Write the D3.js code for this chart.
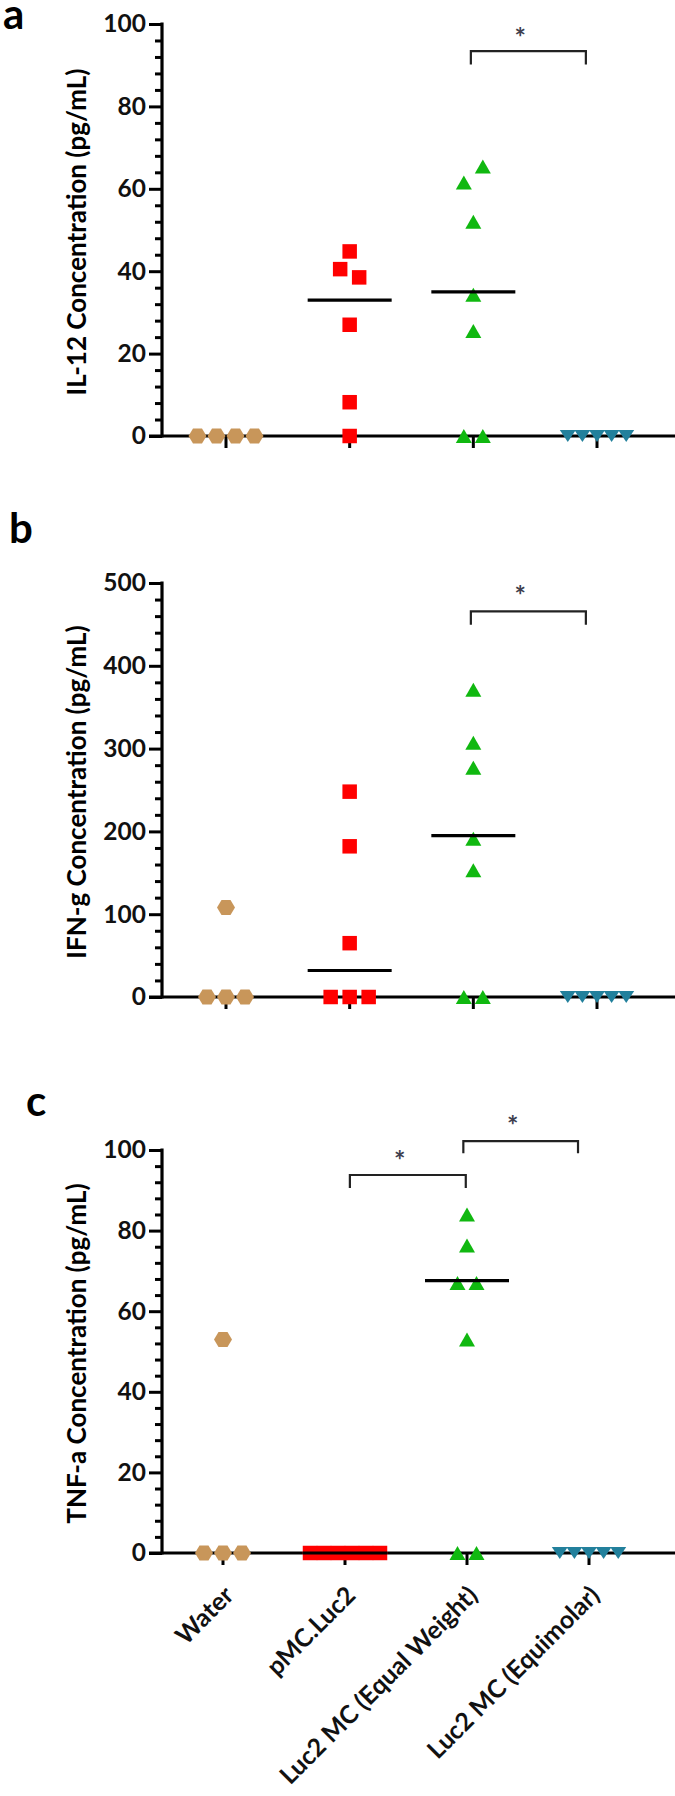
<!DOCTYPE html>
<html><head><meta charset="utf-8">
<script src="https://cdn.jsdelivr.net/npm/d3@7"></script>
<style>body{margin:0;background:#fff;} svg{display:block;}</style>
</head><body>
<svg id="chart" width="675" height="1796"></svg>
<script>
// ---------------- DATA ----------------
const categories = ["Water", "pMC.Luc2", "Luc2 MC (Equal Weight)", "Luc2 MC (Equimolar)"];

// Panel a: IL-12 (pg/mL)
const il12Water = [0, 0, 0, 0];
const il12PMC   = [44.8, 40.5, 38.5, 27, 8.2, 0];
const il12EW    = [65.4, 61.5, 52, 34.3, 25.5, 0, 0];
const il12EM    = [0, 0, 0, 0, 0];
// visible median lines (null = hidden on the axis)
const il12Medians = [null, 33, 35, null];
const il12Ticks = [0, 20, 40, 60, 80, 100];
const il12Minor = 4;
// brackets: [from index, to index, top value, leg value, star value]
const il12Brackets = [[1.98, 2.91, 93.4, 90.2, 97.8]];

// Panel b: IFN-g (pg/mL)
const ifngWater = [108, 0, 0, 0];
const ifngPMC   = [248, 182, 65, 0, 0, 0];
const ifngEW    = [371, 307, 277, 191, 153, 0, 0];
const ifngEM    = [0, 0, 0, 0, 0];
const ifngMedians = [null, 32, 195, null];
const ifngTicks = [0, 100, 200, 300, 400, 500];
const ifngMinor = 20;
const ifngBrackets = [[1.98, 2.91, 465.7, 449.6, 490]];

// Panel c: TNF-a (pg/mL)
const tnfaWater = [53, 0, 0, 0];
const tnfaPMC   = [0, 0, 0, 0, 0, 0];
const tnfaEW    = [84, 76.3, 67, 67, 53, 0, 0];
const tnfaEM    = [0, 0, 0, 0, 0];
const tnfaMedians = [null, 0, 67.6, null];
const tnfaTicks = [0, 20, 40, 60, 80, 100];
const tnfaMinor = 4;
const tnfaBrackets = [[1.04, 1.99, 93.8, 90.6, 98.5], [1.97, 2.91, 102.2, 99.2, 107.2]];

// ---------------- STYLE / LAYOUT ----------------
const FONT = "Lato, 'Open Sans', 'Liberation Sans', sans-serif";
const colors = ["#c8965a", "#ff0000", "#10b810", "#22809c"];
const shapes = ["hex", "square", "triUp", "triDown"];
const markerSpec = {
  hex:     {w: 18, h: 15, minDist: 19, step: 9.5},
  square:  {w: 14.5, h: 14.5, minDist: 19, step: 9.5},
  triUp:   {w: 16, h: 14, minDist: 19, step: 9.5},
  triDown: {w: 16, h: 12, minDist: 14.6, step: 7.3}
};
const axisX = 162;
const W = 675;

const panels = [
  {letter: "a", lx: 3, ly: 29, yTop: 24, yBot: 436, xr: [226, 597],
   title: "IL-12 Concentration (pg/mL)", max: 100, ticks: il12Ticks, minor: il12Minor,
   series: [il12Water, il12PMC, il12EW, il12EM], medians: il12Medians, brackets: il12Brackets, xlabels: false},
  {letter: "b", lx: 9, ly: 543, yTop: 583, yBot: 997, xr: [226, 597],
   title: "IFN-g Concentration (pg/mL)", max: 500, ticks: ifngTicks, minor: ifngMinor,
   series: [ifngWater, ifngPMC, ifngEW, ifngEM], medians: ifngMedians, brackets: ifngBrackets, xlabels: false},
  {letter: "c", lx: 26, ly: 1116, yTop: 1150, yBot: 1553, xr: [223, 589],
   title: "TNF-a Concentration (pg/mL)", max: 100, ticks: tnfaTicks, minor: tnfaMinor,
   series: [tnfaWater, tnfaPMC, tnfaEW, tnfaEM], medians: tnfaMedians, brackets: tnfaBrackets, xlabels: true}
];

function markerPath(shape, w, h) {
  const a = w / 2, b = h / 2;
  if (shape === "square") return `M${-a},${-b}H${a}V${b}H${-a}Z`;
  if (shape === "triUp") return `M0,${-b}L${a},${b}L${-a},${b}Z`;
  if (shape === "triDown") return `M${-a},${-b}L${a},${-b}L0,${b}Z`;
  const c = a * 0.5;
  return `M${-a},0L${-c},${-b}L${c},${-b}L${a},0L${c},${b}L${-c},${b}Z`;
}

// deterministic column-scatter spreading (collision avoidance)
function spread(values, y, spec, maxSpan) {
  const n = values.length;
  const order = d3.range(n).sort((i, j) => values[j] - values[i]);
  const placed = [];
  const off = new Array(n);
  for (const i of order) {
    const py = y(values[i]);
    for (let k = 0; ; k++) {
      const c = k === 0 ? 0 : (k % 2 ? -1 : 1) * Math.ceil(k / 2) * spec.step;
      if (placed.every(p => Math.hypot(p.x - c, p.y - py) >= spec.minDist - 1e-6)) {
        off[i] = c; placed.push({x: c, y: py, i}); break;
      }
    }
  }
  const byY = placed.slice().sort((p, q) => p.y - q.y);
  const clusters = [];
  let cluster = [byY[0]];
  for (let k = 1; k < byY.length; k++) {
    if (byY[k].y - byY[k - 1].y < spec.minDist) cluster.push(byY[k]);
    else { clusters.push(cluster); cluster = [byY[k]]; }
  }
  if (byY.length) clusters.push(cluster);
  for (const cl of clusters) {
    const lo = d3.min(cl, p => p.x), hi = d3.max(cl, p => p.x);
    const mid = (lo + hi) / 2, ext = hi - lo;
    const f = ext > maxSpan ? maxSpan / ext : 1;
    for (const p of cl) off[p.i] = (p.x - mid) * f;
  }
  return off;
}

const svg = d3.select("#chart");

panels.forEach(P => {
  const g = svg.append("g");
  const y = d3.scaleLinear().domain([0, P.max]).range([P.yBot, P.yTop]);
  const x = d3.scaleLinear().domain([0, categories.length - 1]).range(P.xr);

  g.append("text").attr("x", P.lx).attr("y", P.ly)
    .attr("font-family", FONT).attr("font-weight", 700).attr("font-size", 42)
    .attr("fill", "#000").text(P.letter);

  g.append("text")
    .attr("transform", `translate(86,${(P.yTop + P.yBot) / 2 + 2}) rotate(-90)`)
    .attr("text-anchor", "middle")
    .attr("font-family", FONT).attr("font-weight", 700).attr("font-size", 26)
    .attr("fill", "#000").text(P.title);

  const minorVals = d3.range(0, P.max + 1e-9, P.minor).filter(v => !P.ticks.includes(v));
  const mg = g.append("g").attr("transform", `translate(${axisX},0)`)
    .call(d3.axisLeft(y).tickValues(minorVals).tickSize(7).tickFormat(""));
  mg.select(".domain").remove();
  mg.selectAll(".tick line").attr("stroke", "#000").attr("stroke-width", 3);

  const ag = g.append("g").attr("transform", `translate(${axisX},0)`)
    .call(d3.axisLeft(y).tickValues(P.ticks).tickSize(13).tickPadding(3).tickFormat(d3.format("d")));
  ag.select(".domain").remove();
  ag.selectAll(".tick line").attr("stroke", "#000").attr("stroke-width", 3);
  ag.selectAll(".tick text").attr("font-family", FONT).attr("font-weight", 700)
    .attr("font-size", 24.5).attr("fill", "#111");

  g.append("line").attr("x1", axisX).attr("x2", axisX)
    .attr("y1", y(P.max) - 1.5).attr("y2", y(0) + 1.5)
    .attr("stroke", "#000").attr("stroke-width", 3.2);
  g.append("line").attr("x1", axisX - 13).attr("x2", W)
    .attr("y1", y(0)).attr("y2", y(0))
    .attr("stroke", "#000").attr("stroke-width", 3.2);
  g.selectAll(".ctick").data(categories).join("line")
    .attr("x1", (d, i) => x(i)).attr("x2", (d, i) => x(i))
    .attr("y1", y(0)).attr("y2", y(0) + 12)
    .attr("stroke", "#000").attr("stroke-width", 3);

  P.series.forEach((vals, ci) => {
    const spec = markerSpec[shapes[ci]];
    const offs = spread(vals, y, spec, 70);
    g.append("g").selectAll("path").data(vals).join("path")
      .attr("d", markerPath(shapes[ci], spec.w, spec.h))
      .attr("transform", (v, k) => `translate(${x(ci) + offs[k]},${y(v)})`)
      .attr("fill", colors[ci]);
  });

  const med = P.medians.map((m, i) => ({m, i})).filter(d => d.m !== null);
  g.selectAll(".median").data(med).join("line")
    .attr("x1", d => x(d.i) - 42).attr("x2", d => x(d.i) + 42)
    .attr("y1", d => y(d.m)).attr("y2", d => y(d.m))
    .attr("stroke", "#000").attr("stroke-width", 3.2);

  P.brackets.forEach(([a, b, top, leg, star]) => {
    const x1 = x(a), x2 = x(b);
    g.append("path")
      .attr("d", `M${x1},${y(leg)}V${y(top)}H${x2}V${y(leg)}`)
      .attr("fill", "none").attr("stroke", "#222").attr("stroke-width", 2.2);
    g.append("text").attr("x", (x1 + x2) / 2 - 8).attr("y", y(star) + 14)
      .attr("text-anchor", "middle").attr("font-family", FONT).attr("font-weight", 700)
      .attr("font-size", 27).attr("fill", "#3e3e4e").text("*");
  });

  if (P.xlabels) {
    g.selectAll(".xl").data(categories).join("text")
      .attr("transform", (d, i) => `translate(${x(i) + 12},${y(0) + 44}) rotate(-45)`)
      .attr("text-anchor", "end")
      .attr("font-family", FONT).attr("font-weight", 700).attr("font-size", 25)
      .attr("fill", "#111").text(d => d);
  }
});
</script>
</body></html>
